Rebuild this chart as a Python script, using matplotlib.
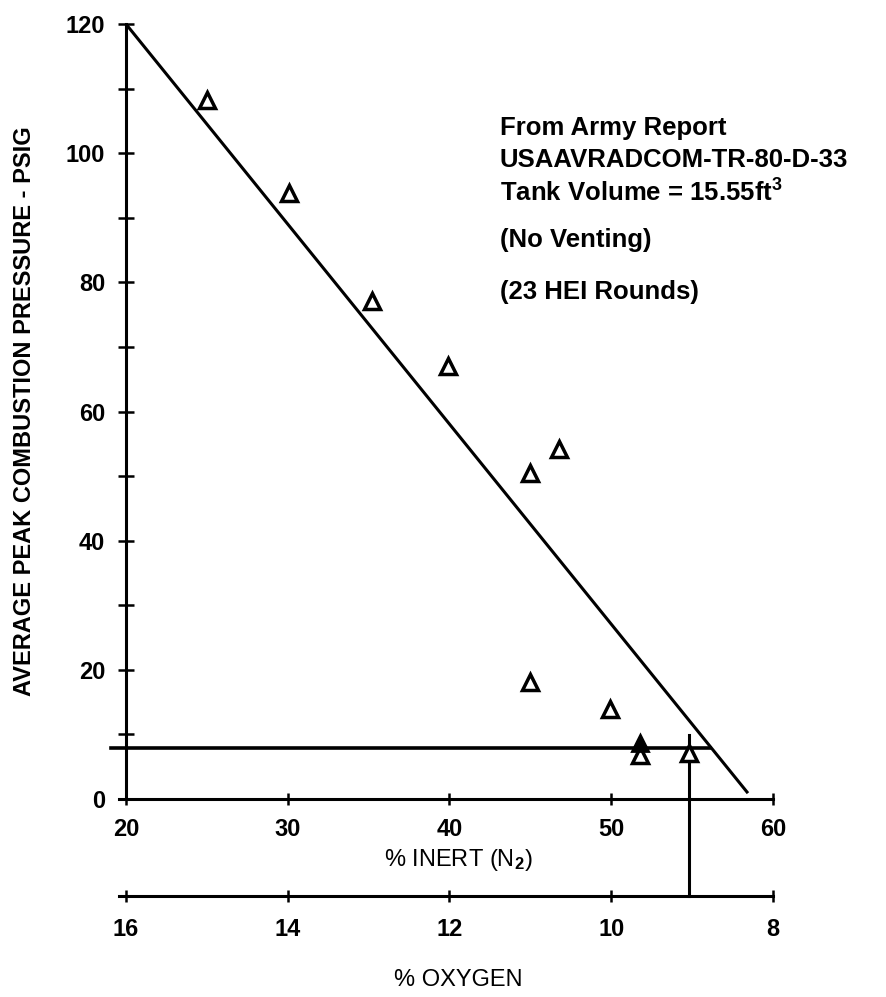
import matplotlib
matplotlib.use("Agg")
import matplotlib.pyplot as plt

# ---- data ----
inert_pct = [25.0, 30.1, 35.2, 39.9, 45.0, 46.8, 45.0, 49.9, 51.8, 54.8]
peak_pressure = [108.2, 93.8, 77.1, 67.0, 50.5, 54.2, 18.1, 13.9, 6.8, 7.1]
filled_inert = [51.8]
filled_pressure = [8.7]
fit_inert = [20.0, 58.45]
fit_pressure = [120.0, 0.9]
limit_pressure = 7.9
limit_line_inert = [19.1, 56.1]
limit_inert = 54.8
limit_top = 9.9
x_ticks = [20, 30, 40, 50, 60]
y_ticks = list(range(0, 121, 10))
y_labels = ["0", "", "20", "", "40", "", "60", "", "80", "", "100", "", "120"]
o2_ticks = [16, 14, 12, 10, 8]
notes = ["From Army Report", "USAAVRADCOM-TR-80-D-33",
         r"Tank Volume = 15.55ft$^{3}$", "(No Venting)", "(23 HEI Rounds)"]
note_y = [0.866, 0.825, 0.782, 0.721, 0.654]

plt.rcParams['font.family'] = ['Liberation Sans', 'DejaVu Sans']
plt.rcParams['mathtext.fontset'] = 'custom'
plt.rcParams['mathtext.rm'] = 'Liberation Sans:bold'
plt.rcParams['mathtext.default'] = 'rm'

fig = plt.figure(figsize=(8.87, 9.97), dpi=100)
ax = fig.add_axes([0.1347, 0.1986, 0.7368, 0.7773])
ax.set_xlim(19.6, 60.0)
ax.set_ylim(0, 120)

lw = 2.2
for s in ['top', 'right']:
    ax.spines[s].set_visible(False)
ax.spines['left'].set_position(('data', 20))
ax.spines['left'].set_linewidth(lw)
ax.spines['bottom'].set_linewidth(lw)

ax.set_yticks(y_ticks)
ax.set_yticklabels(y_labels)
ax.set_xticks(x_ticks)
ax.tick_params(axis='y', direction='inout', length=12, width=1.8, pad=9,
               labelsize=17)
ax.tick_params(axis='x', direction='inout', length=8, width=1.8, pad=10,
               labelsize=17)
for lab in ax.get_xticklabels() + ax.get_yticklabels():
    lab.set_fontweight('bold')

# fit line
ax.plot(fit_inert, fit_pressure, color='black', lw=2.2, clip_on=False,
        solid_capstyle='butt', zorder=3)
# limit lines
ax.plot(limit_line_inert, [limit_pressure, limit_pressure], color='black',
        lw=2.6, clip_on=False, zorder=3)
y0, y1 = ax.get_ylim()
o2_axis_frac = -0.125
o2_axis_y = y0 + o2_axis_frac * (y1 - y0)
ax.plot([limit_inert, limit_inert], [limit_top, o2_axis_y], color='black',
        lw=2.2, clip_on=False, zorder=3)

# data points
ax.plot(inert_pct, peak_pressure, linestyle='none', marker='^', ms=11,
        mfc='white', mec='black', mew=2.5, zorder=4, clip_on=False)
ax.plot(filled_inert, filled_pressure, linestyle='none', marker='^', ms=11,
        mfc='black', mec='black', mew=2.0, zorder=5, clip_on=False)

# oxygen axis
sec = ax.secondary_xaxis(o2_axis_frac,
                         functions=(lambda x: 20 - x / 5.0,
                                    lambda o: (20 - o) * 5.0))
sec.set_xticks(o2_ticks)
sec.tick_params(axis='x', direction='inout', length=8, width=1.8, pad=12,
                labelsize=17)
for lab in sec.get_xticklabels():
    lab.set_fontweight('bold')
for s in sec.spines.values():
    s.set_linewidth(lw)

# labels
ax.text(-0.145, 0.5, "AVERAGE PEAK COMBUSTION PRESSURE - PSIG",
        transform=ax.transAxes, rotation=90, ha='center', va='center',
        fontsize=17, fontweight='bold')
ax.text(0.518, -0.079, r"% INERT (N$_2$)", transform=ax.transAxes,
        ha='center', va='center', fontsize=17)
ax.text(0.518, -0.2335, "% OXYGEN", transform=ax.transAxes,
        ha='center', va='center', fontsize=17)

for t, yy in zip(notes, note_y):
    ax.text(0.582, yy, t, transform=ax.transAxes, ha='left', va='center',
            fontsize=18.5, fontweight='bold')

fig.savefig("out.png", dpi=100)
